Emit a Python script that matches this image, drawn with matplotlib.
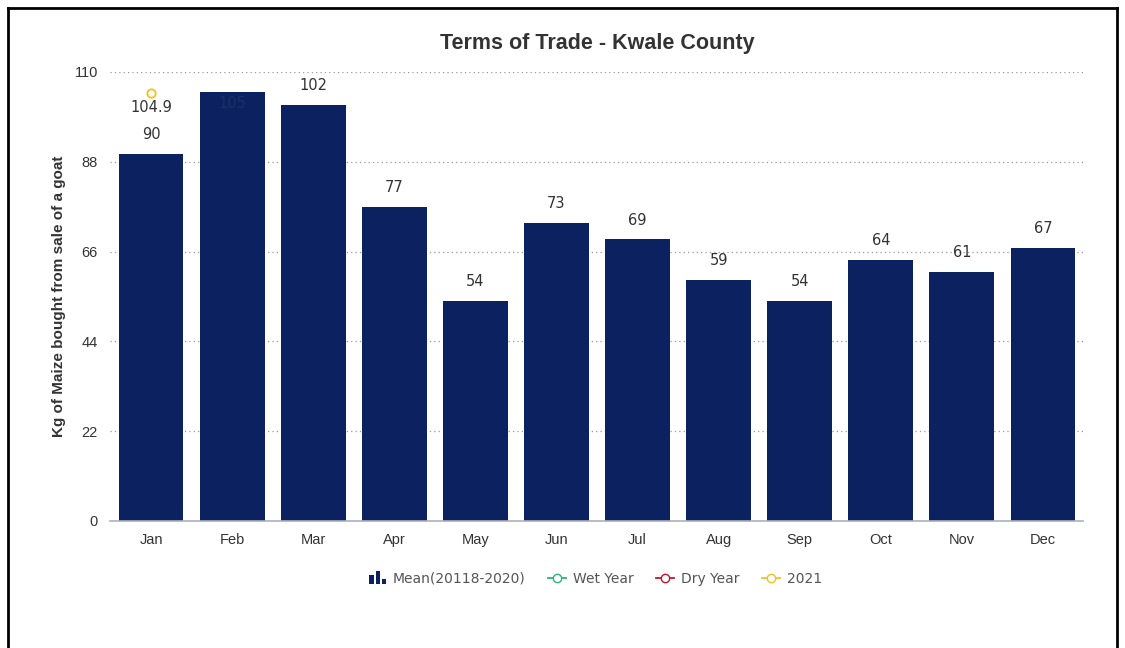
import matplotlib
matplotlib.use("Agg")
import matplotlib.pyplot as plt
from matplotlib.lines import Line2D
from matplotlib.patches import Rectangle
from matplotlib.legend_handler import HandlerBase
import numpy as np

months = ["Jan", "Feb", "Mar", "Apr", "May", "Jun", "Jul", "Aug", "Sep", "Oct", "Nov", "Dec"]
mean_vals = [90, 105, 102, 77, 54, 73, 69, 59, 54, 64, 61, 67]
y2021_vals = [104.9] + [None] * 11
yticks = [0, 22, 44, 66, 88, 110]

bar_color = "#0b2160"
c2021 = "#f2c21b"
cwet = "#2bb673"
cdry = "#c0162c"

plt.rcParams['font.family'] = ['Liberation Sans', 'DejaVu Sans']

fig = plt.figure(figsize=(11.25, 6.48), dpi=100)
ax = fig.add_axes([0.0982, 0.196, 0.8649, 0.6929])

x = np.arange(len(months))
ax.bar(x, mean_vals, width=0.8, color=bar_color, zorder=2)
for xi, v in zip(x, mean_vals):
    if v >= 104:
        ax.text(xi, v - 2.8, f"{v}", ha="center", va="center", fontsize=10.5, color="#1d2f66",
                family="DejaVu Sans", zorder=3)
    else:
        ax.text(xi, v + 4.7, f"{v}", ha="center", va="center", fontsize=10.5, color="#333333",
                family="DejaVu Sans", zorder=3)

for xi, v in zip(x, y2021_vals):
    if v is not None:
        ax.plot([xi], [v], marker="o", markersize=6, markerfacecolor="white",
                markeredgecolor=c2021, markeredgewidth=1.3, linestyle="none", zorder=4)
        ax.text(xi, v - 3.6, f"{v}", ha="center", va="center", fontsize=10.5, color="#333333",
                family="DejaVu Sans", zorder=4)

ax.set_xlim(-0.5, len(months) - 0.5)
ax.set_ylim(0, 110)
ax.set_yticks(yticks)
ax.set_yticklabels([str(t) for t in yticks])
ax.set_xticks(x)
ax.set_xticklabels(months)
ax.tick_params(axis="both", length=0, labelsize=10.5, colors="#333333")
ax.tick_params(axis="x", pad=9)
ax.tick_params(axis="y", pad=9)
for t in yticks[1:]:
    ax.axhline(t, color="#999999", linestyle=(0, (1, 2.5)), linewidth=0.9, zorder=1)
for s in ["top", "right", "left"]:
    ax.spines[s].set_visible(False)
ax.spines["bottom"].set_color("#aab0bd")
ax.spines["bottom"].set_linewidth(1.2)
ax.spines["bottom"].set_zorder(3)

ax.set_ylabel("Kg of Maize bought from sale of a goat", fontsize=11, fontweight="bold", color="#333333")
ax.yaxis.set_label_coords(-44 / 973, 0.5)
fig.text(597 / 1125, 1 - 44 / 648, "Terms of Trade - Kwale County", ha="center", va="center",
         fontsize=15.5, fontweight="bold", color="#333333")


class BarIconHandler(HandlerBase):
    def create_artists(self, legend, orig_handle, xdescent, ydescent, width, height, fontsize, trans):
        artists = []
        bw = 3.2
        gap = 1.2
        heights = [0.7, 1.0, 0.4]
        total = 3 * bw + 2 * gap
        x0 = width - total - xdescent
        for i, h in enumerate(heights):
            r = Rectangle((x0 + i * (bw + gap), -ydescent - 1), bw, (height + 3) * h,
                          facecolor=bar_color, edgecolor="none", transform=trans)
            artists.append(r)
        return artists


bar_proxy = Rectangle((0, 0), 1, 1, color=bar_color)
handles = [
    bar_proxy,
    Line2D([], [], color=cwet, marker="o", markerfacecolor="white", markeredgecolor=cwet, linewidth=1.3, markersize=6),
    Line2D([], [], color=cdry, marker="o", markerfacecolor="white", markeredgecolor=cdry, linewidth=1.3, markersize=6),
    Line2D([], [], color=c2021, marker="o", markerfacecolor="white", markeredgecolor=c2021, linewidth=1.3, markersize=6),
]
labels = ["Mean(20118-2020)", "Wet Year", "Dry Year", "2021"]
leg = fig.legend(handles, labels, loc="center", bbox_to_anchor=(595 / 1125, 1 - 579 / 648), ncol=4,
                 frameon=False, handlelength=1.3, handletextpad=0.5, columnspacing=1.6,
                 prop={"family": "DejaVu Sans", "size": 10},
                 handler_map={Rectangle: BarIconHandler()})
for t in leg.get_texts():
    t.set_color("#555555")

# outer border
for xs, ys in [([8 / 1125, 8 / 1125], [0, 1 - 8 / 648]),
               ([8 / 1125, 1117 / 1125], [1 - 8 / 648, 1 - 8 / 648]),
               ([1117 / 1125, 1117 / 1125], [0, 1 - 8 / 648])]:
    fig.add_artist(Line2D(xs, ys, color="black", linewidth=2, transform=fig.transFigure))

fig.savefig("out.png", dpi=100)
